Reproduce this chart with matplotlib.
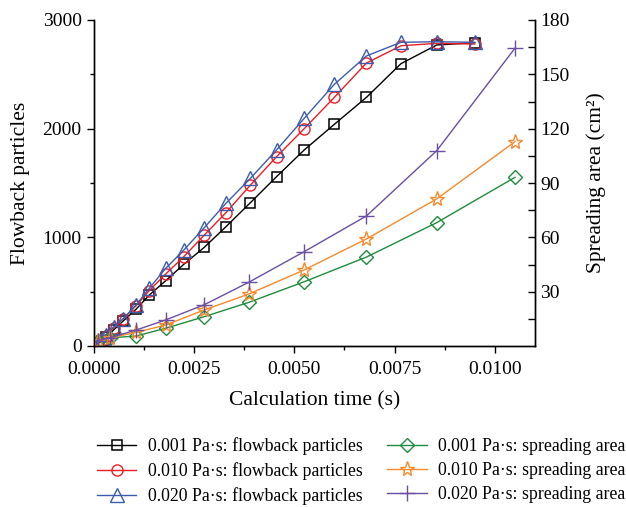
import matplotlib
matplotlib.use("Agg")
import matplotlib.pyplot as plt
from matplotlib.ticker import MultipleLocator, FixedLocator

# ---- data ----
t_flow = [0.0001, 0.0002, 0.0003, 0.0005, 0.00074, 0.00106, 0.00139, 0.0018,
          0.00225, 0.00276, 0.0033, 0.00391, 0.00456, 0.00525, 0.0060,
          0.0068, 0.00766, 0.00855, 0.0095]
flow_001 = [20, 45, 80, 147, 230, 338, 469, 601, 752, 908, 1098, 1319, 1558,
            1804, 2040, 2288, 2598, 2770, 2791]
flow_010 = [25, 55, 95, 165, 250, 370, 510, 663, 822, 1021, 1227, 1481, 1742,
            2000, 2288, 2604, 2763, 2785, 2779]
flow_020 = [30, 60, 100, 175, 250, 377, 531, 715, 883, 1089, 1313, 1543, 1804,
            2095, 2408, 2669, 2795, 2800, 2795]

t_area = [0.0001, 0.0004, 0.00106, 0.0018, 0.00276, 0.00387, 0.00525,
          0.0068, 0.00855, 0.0105]
area_001 = [3.0, 4.5, 5.5, 9.8, 16.2, 24.1, 35.5, 49.1, 68.1, 93.1]
area_010 = [3.0, 4.5, 7.5, 11.6, 19.9, 28.7, 42.0, 59.1, 81.2, 112.8]
area_020 = [3.0, 4.5, 8.8, 14.4, 22.8, 35.2, 52.1, 71.8, 107.8, 164.4]

labels = ["0.001 Pa·s: flowback particles", "0.010 Pa·s: flowback particles",
          "0.020 Pa·s: flowback particles", "0.001 Pa·s: spreading area",
          "0.010 Pa·s: spreading area", "0.020 Pa·s: spreading area"]
xticks = [0.0, 0.0025, 0.005, 0.0075, 0.01]
xticklabels = ["0.0000", "0.0025", "0.0050", "0.0075", "0.0100"]

plt.rcParams['font.family'] = ['Liberation Serif', 'DejaVu Serif']

W, H = 626, 507
fig = plt.figure(figsize=(W / 100, H / 100), dpi=100)
ax = fig.add_axes([93.5 / W, 1 - 346 / H, (535 - 93.5) / W, (346 - 20) / H])
ax2 = ax.twinx()

lw = 1.0
h1, = ax.plot(t_flow, flow_001, color='black', marker='s', ms=7, mfc='none', mew=1.1, lw=lw, zorder=3)
h2, = ax.plot(t_flow, flow_010, color='#ee1c25', marker='o', ms=8, mfc='none', mew=1.0, lw=lw, zorder=4)
h3, = ax.plot(t_flow, flow_020, color='#3b5cad', marker='^', ms=9.5, mfc='none', mew=1.0, lw=lw, zorder=5)
h4, = ax2.plot(t_area, area_001, color='#1e8c3e', marker='D', ms=7.5, mfc='none', mew=1.0, lw=lw)
h5, = ax2.plot(t_area, area_010, color='#f7892b', marker='*', ms=11, mfc='none', mew=1.0, lw=lw)
h6, = ax2.plot(t_area, area_020, color='#6a4fa3', marker='+', ms=11, mfc='none', mew=1.0, lw=lw)

ax.set_xlim(0, 0.011)
ax.set_ylim(0, 3000)
ax2.set_ylim(0, 180)

ax.set_xticks(xticks)
ax.set_xticklabels(xticklabels)
ax.xaxis.set_minor_locator(FixedLocator([0.00125, 0.00375, 0.00625, 0.00875, 0.01125]))
ax.yaxis.set_major_locator(MultipleLocator(1000))
ax.yaxis.set_minor_locator(MultipleLocator(500))
ax2.yaxis.set_major_locator(FixedLocator([30, 60, 90, 120, 150, 180]))
ax2.yaxis.set_minor_locator(FixedLocator([15, 45, 75, 105, 135, 165]))

for a in (ax, ax2):
    a.spines['top'].set_visible(False)
    for s in a.spines.values():
        s.set_linewidth(1.0)

ax.tick_params(axis='both', which='major', direction='out', length=5, width=1.0, labelsize=14)
ax.tick_params(axis='both', which='minor', direction='out', length=3, width=1.0)
ax.tick_params(axis='x', which='major', pad=6)
ax.tick_params(axis='y', right=False)
ax2.tick_params(axis='y', which='both', direction='in', length=5, width=1.0, labelsize=14, pad=4)
ax2.tick_params(axis='y', which='minor', length=5)

ax.set_xlabel("Calculation time (s)", fontsize=15.5, labelpad=9)
ax.set_ylabel("Flowback particles", fontsize=15.5, labelpad=9)
ax2.set_ylabel("Spreading area (cm²)", fontsize=15.5, labelpad=12)

fig.legend([h1, h2, h3, h4, h5, h6], labels, ncol=2, frameon=False,
           loc='upper left', bbox_to_anchor=(90 / W, 1 - 430 / H),
           fontsize=12.8, handlelength=2.2, handletextpad=0.65,
           columnspacing=1.4, labelspacing=0.4, borderaxespad=0)

fig.savefig("out.png", dpi=100)
